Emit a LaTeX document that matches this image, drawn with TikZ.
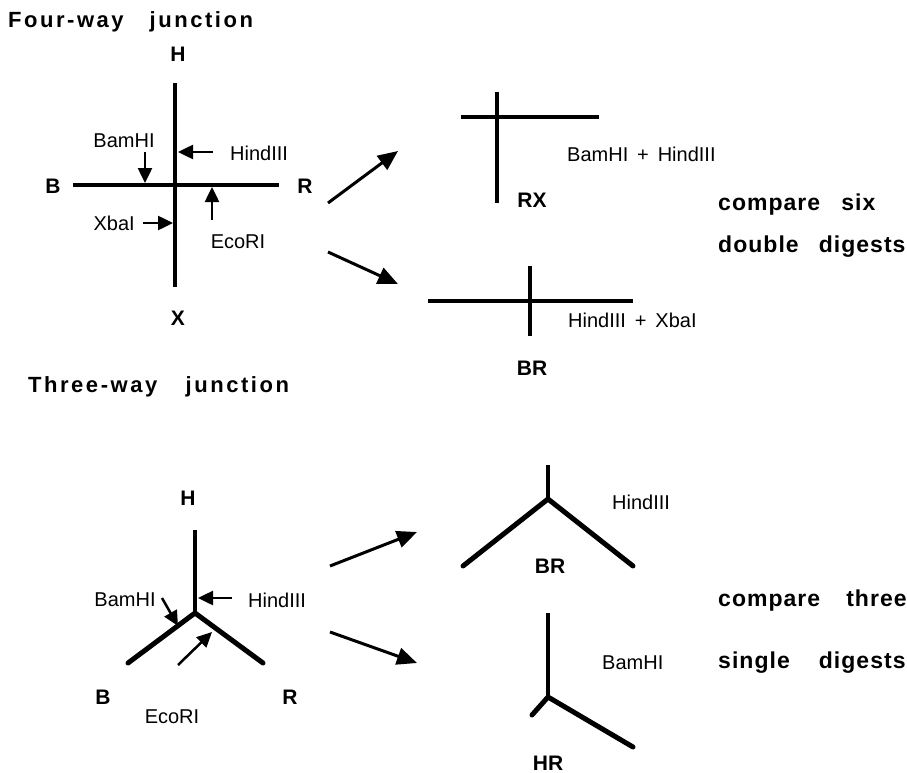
\documentclass[tikz,border=0pt]{standalone}
\usepackage{fontspec}
\setmainfont{Liberation Sans}
\newfontfamily\titlef[LetterSpace=11.5]{Liberation Sans}
\newfontfamily\cmpf[LetterSpace=4.5]{Liberation Sans}
\usetikzlibrary{arrows.meta}
\tikzset{
  lbl/.style={font=\fontsize{21}{25}\selectfont\bfseries, inner sep=0pt},
  enz/.style={font=\fontsize{20}{24}\selectfont, inner sep=0pt},
  ttl/.style={font=\titlef\fontsize{22}{26}\selectfont\bfseries, inner sep=0pt, anchor=base west},
  cmp/.style={font=\cmpf\fontsize{23}{27}\selectfont\bfseries, inner sep=0pt, anchor=base west},
  dna/.style={line width=4pt},
  dnathick/.style={line width=5pt, line cap=round},
  cutarrow/.style={line width=2.5pt, -{Triangle[length=15pt,width=14pt]}},
  bigarrow/.style={line width=3pt, -{Triangle[length=20pt,width=17pt]}}
}
\begin{document}
\begin{tikzpicture}[x=1pt,y=-1pt]
\useasboundingbox (0,0) rectangle (907,773);
% titles
\node[ttl] (t1) at (8,28) {Four-way\hspace{26pt}junction};
\node[ttl] (t2) at (28,392) {Three-way\hspace{28.5pt}junction};
% ---------- four-way junction ----------
\coordinate (fT) at (175,83);
\coordinate (fD) at (175,287);
\coordinate (fL) at (73,185);
\coordinate (fR) at (279,185);
\draw[dna] (fT) -- (fD);
\draw[dna] (fL) -- (fR);
\node[lbl] (fH) at (178,54) {H};
\node[lbl] (fB) at (53,186) {B};
\node[lbl] (fRl) at (305,186) {R};
\node[lbl] (fX) at (178,318) {X};
\node[enz] (fbam) at (124,141) {BamHI};
\coordinate (fbamS) at (145,152);
\coordinate (fbamT) at (145,183);
\draw[cutarrow] (fbamS) -- (fbamT);
\node[enz, anchor=west] (fhind) at (230,153) {HindIII};
\coordinate (fhS) at (213,152);
\coordinate (fhT) at (178,152);
\draw[cutarrow] (fhS) -- (fhT);
\node[enz, anchor=east] (fxba) at (135,223) {XbaI};
\coordinate (fxS) at (143,223);
\coordinate (fxT) at (173,223);
\draw[cutarrow] (fxS) -- (fxT);
\node[enz] (feco) at (238,242) {EcoRI};
\coordinate (feS) at (212,220);
\coordinate (feT) at (212,187);
\draw[cutarrow] (feS) -- (feT);
% arrows to products
\coordinate (a1S) at (328,203);
\coordinate (a1T) at (398,151);
\coordinate (a2S) at (328,252);
\coordinate (a2T) at (398,284);
\draw[bigarrow] (a1S) -- (a1T);
\draw[bigarrow] (a2S) -- (a2T);
% RX product
\coordinate (rxL) at (461,117);
\coordinate (rxR) at (599,117);
\coordinate (rxT) at (497,92);
\coordinate (rxD) at (497,203);
\draw[dna] (rxL) -- (rxR);
\draw[dna] (rxT) -- (rxD);
\node[lbl] (rx) at (532,200) {RX};
\node[enz, anchor=west] (rxenz) at (567,154) {BamHI\, + \,HindIII};
% BR product (four-way)
\coordinate (brL) at (428,301);
\coordinate (brR) at (633,301);
\coordinate (brT) at (530,266);
\coordinate (brD) at (530,336);
\draw[dna] (brL) -- (brR);
\draw[dna] (brT) -- (brD);
\node[lbl] (br) at (532,368) {BR};
\node[enz, anchor=west] (brenz) at (568,320) {HindIII\, + \,XbaI};
% compare text
\node[cmp] (c1) at (718,210) {compare\hspace{21pt}six};
\node[cmp] (c2) at (718,252) {double\hspace{20pt}digests};
% ---------- three-way junction ----------
\coordinate (tJ) at (195,613);
\coordinate (tT) at (195,530);
\coordinate (tL) at (128,663);
\coordinate (tR) at (263,663);
\draw[dna] (tT) -- (tJ);
\draw[dnathick] (tL) -- (tJ) -- (tR);
\node[lbl] (tH) at (188,498) {H};
\node[lbl] (tB) at (103,697) {B};
\node[lbl] (tRl) at (290,697) {R};
\node[enz] (tbam) at (125,600) {BamHI};
\coordinate (tbS) at (162,598);
\coordinate (tbT) at (178,626);
\draw[cutarrow] (tbS) -- (tbT);
\node[enz, anchor=west] (thind) at (248,600) {HindIII};
\coordinate (thS) at (232,598);
\coordinate (thT) at (198,598);
\draw[cutarrow] (thS) -- (thT);
\node[enz] (teco) at (172,717) {EcoRI};
\coordinate (teS) at (178,665);
\coordinate (teT) at (212,632);
\draw[cutarrow] (teS) -- (teT);
% arrows
\coordinate (b1S) at (330,566);
\coordinate (b1T) at (417,532);
\coordinate (b2S) at (330,632);
\coordinate (b2T) at (417,663);
\draw[bigarrow] (b1S) -- (b1T);
\draw[bigarrow] (b2S) -- (b2T);
% BR product (three-way)
\coordinate (pA) at (548,499);
\coordinate (pT) at (548,465);
\coordinate (pL) at (463,566);
\coordinate (pR) at (633,566);
\draw[dna] (pT) -- (pA);
\draw[dnathick] (pL) -- (pA) -- (pR);
\node[lbl] (br3) at (550,566) {BR};
\node[enz, anchor=west] (br3enz) at (612,502) {HindIII};
% HR product
\coordinate (qT) at (548,613);
\coordinate (qJ) at (548,697);
\coordinate (qL) at (532,715);
\coordinate (qR) at (633,747);
\draw[dna] (qT) -- (qJ);
\draw[dnathick] (qL) -- (qJ) -- (qR);
\node[lbl] (hr) at (548,763) {HR};
\node[enz, anchor=west] (hrenz) at (602,663) {BamHI};
% compare text
\node[cmp] (c3) at (718,606) {compare\hspace{26pt}three};
\node[cmp] (c4) at (718,668) {single\hspace{29pt}digests};
\end{tikzpicture}
\end{document}
